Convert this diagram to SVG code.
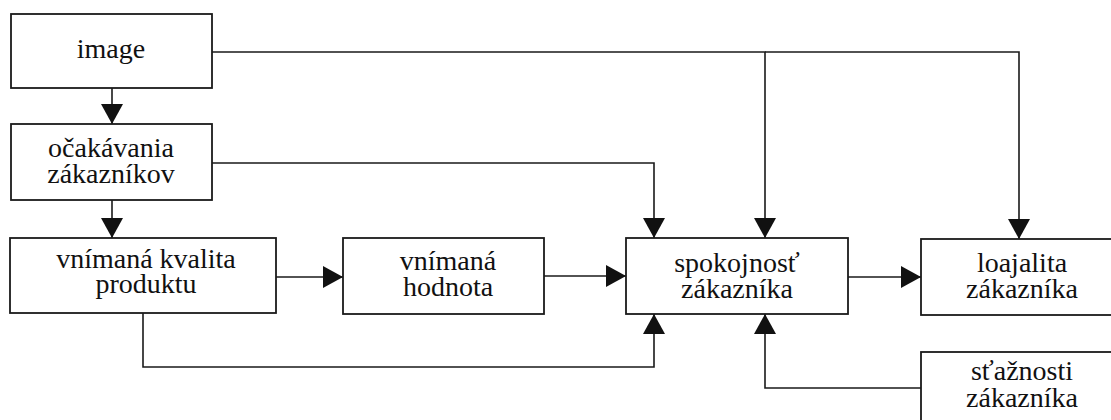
<svg xmlns="http://www.w3.org/2000/svg" width="1111" height="420" viewBox="0 0 1111 420">
  <defs>
    <marker id="arrow" viewBox="0 0 20 22" refX="20" refY="11" markerWidth="20" markerHeight="22" markerUnits="userSpaceOnUse" orient="auto">
      <path d="M0,0 L20,11 L0,22 Z" fill="#111"/>
    </marker>
  </defs>
  <style>
    .box { fill: #fff; stroke: #1a1a1a; stroke-width: 1.8; }
    .lbl { font-family: "Liberation Serif", "Times New Roman", serif; font-size: 28px; fill: #111; text-anchor: middle; }
    .conn { fill: none; stroke: #1a1a1a; stroke-width: 1.6; marker-end: url(#arrow); }
  </style>
  <rect width="1111" height="420" fill="#fff"/>

  <!-- connectors -->
  <g id="connectors">
    <path class="conn" d="M112,88 L112,124"/>
    <path class="conn" d="M112,200 L112,238"/>
    <path class="conn" d="M212,52 L765,52 L765,238"/>
    <path class="conn" d="M765,52 L1019,52 L1019,239"/>
    <path class="conn" d="M212,163 L654,163 L654,238"/>
    <path class="conn" d="M276,277 L343,277"/>
    <path class="conn" d="M544,276 L626,276"/>
    <path class="conn" d="M848,277 L921,277"/>
    <path class="conn" d="M143,313 L143,367 L654,367 L654,314"/>
    <path class="conn" d="M921,388 L765,388 L765,314"/>
  </g>

  <g id="image">
    <rect class="box" x="11" y="14" width="201" height="74"/>
    <text class="lbl" x="111" y="58">image</text>
  </g>

  <g id="ocakavania">
    <rect class="box" x="11" y="124" width="201" height="76"/>
    <text class="lbl" x="111" y="157">očakávania</text>
    <text class="lbl" x="111" y="183">zákazníkov</text>
  </g>

  <g id="kvalita">
    <rect class="box" x="10" y="238" width="266" height="75"/>
    <text class="lbl" x="146" y="268">vnímaná kvalita</text>
    <text class="lbl" x="146" y="293">produktu</text>
  </g>

  <g id="hodnota">
    <rect class="box" x="343" y="238" width="201" height="76"/>
    <text class="lbl" x="448" y="270">vnímaná</text>
    <text class="lbl" x="448" y="296">hodnota</text>
  </g>

  <g id="spokojnost">
    <rect class="box" x="626" y="238" width="222" height="76"/>
    <text class="lbl" x="737" y="272">spokojnosť</text>
    <text class="lbl" x="737" y="298">zákazníka</text>
  </g>

  <g id="loajalita">
    <rect class="box" x="921" y="239" width="210" height="76"/>
    <text class="lbl" x="1022" y="272">loajalita</text>
    <text class="lbl" x="1022" y="298">zákazníka</text>
  </g>

  <g id="staznosti">
    <rect class="box" x="921" y="352" width="210" height="90"/>
    <text class="lbl" x="1022" y="380">sťažnosti</text>
    <text class="lbl" x="1022" y="407">zákazníka</text>
  </g>
</svg>
